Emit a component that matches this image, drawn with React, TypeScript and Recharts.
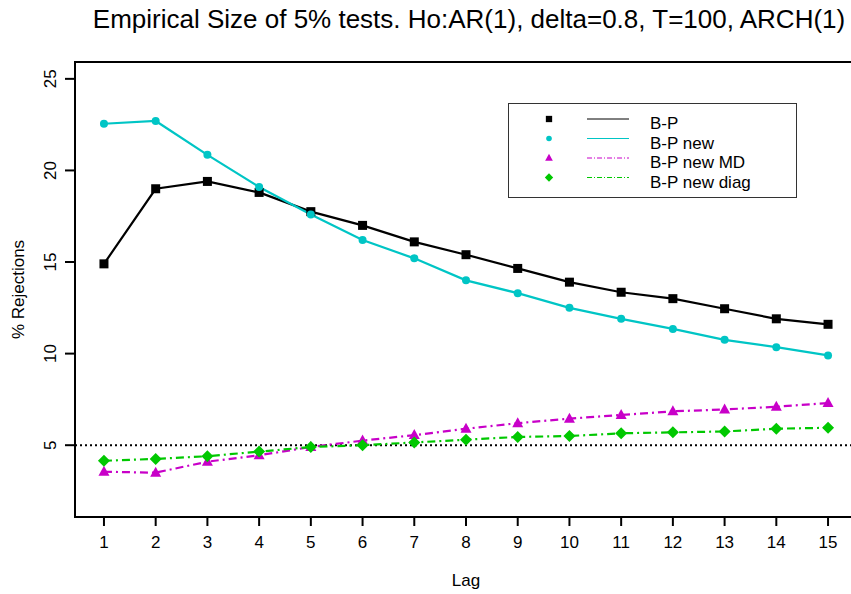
import React from "react";
import { LineChart, Line, XAxis, YAxis, ReferenceLine, ReferenceArea } from "recharts";

// lags and rejection rates (%)
const lags = [1, 2, 3, 4, 5, 6, 7, 8, 9, 10, 11, 12, 13, 14, 15];
const bp = [14.9, 19.0, 19.4, 18.8, 17.75, 17.0, 16.1, 15.4, 14.65, 13.9, 13.35, 13.0, 12.45, 11.9, 11.6];
const bpNew = [22.55, 22.7, 20.85, 19.1, 17.6, 16.2, 15.2, 14.0, 13.3, 12.5, 11.9, 11.35, 10.75, 10.35, 9.9];
const bpNewMD = [3.55, 3.5, 4.1, 4.45, 4.9, 5.25, 5.55, 5.9, 6.2, 6.45, 6.65, 6.85, 6.95, 7.1, 7.3];
const bpNewDiag = [4.15, 4.25, 4.4, 4.65, 4.9, 5.0, 5.15, 5.3, 5.45, 5.5, 5.65, 5.7, 5.75, 5.9, 5.95];
const yTicks = [5, 10, 15, 20, 25];

const data = lags.map((lag, i) => ({
  lag,
  bp: bp[i],
  bpNew: bpNew[i],
  bpNewMD: bpNewMD[i],
  bpNewDiag: bpNewDiag[i],
}));

// R-style axis extension (4%)
const xDomain = [1 - 0.56, 15 + 0.56];
const yDomain = [2 - 0.92, 25 + 0.92];

const FONT = "'Liberation Sans', Arial, Helvetica, sans-serif";
const FS = 17;
const CYAN = "#00C5C5";
const MAGENTA = "#C800C8";
const GREEN = "#00C800";
const DOTDASH = "8 4 2 4";

const Square = ({ cx, cy, fill, s = 1 }: any) =>
  cx == null ? null : (
    <rect x={cx - 4.5 * s} y={cy - 4.5 * s} width={9 * s} height={9 * s} fill={fill} />
  );
const Circle = ({ cx, cy, fill, s = 1 }: any) =>
  cx == null ? null : <circle cx={cx} cy={cy} r={4 * s} fill={fill} />;
const Triangle = ({ cx, cy, fill, s = 1 }: any) =>
  cx == null ? null : (
    <polygon
      points={`${cx},${cy - 6 * s} ${cx - 5.5 * s},${cy + 4 * s} ${cx + 5.5 * s},${cy + 4 * s}`}
      fill={fill}
    />
  );
const Diamond = ({ cx, cy, fill, s = 1 }: any) =>
  cx == null ? null : (
    <polygon
      points={`${cx},${cy - 6 * s} ${cx + 6 * s},${cy} ${cx},${cy + 6 * s} ${cx - 6 * s},${cy}`}
      fill={fill}
    />
  );

const series = [
  { key: "bp", name: "B-P", color: "#000", dash: undefined, Marker: Square },
  { key: "bpNew", name: "B-P new", color: CYAN, dash: undefined, Marker: Circle },
  { key: "bpNewMD", name: "B-P new MD", color: MAGENTA, dash: DOTDASH, Marker: Triangle },
  { key: "bpNewDiag", name: "B-P new diag", color: GREEN, dash: DOTDASH, Marker: Diamond },
];

const LegendBox = () => (
  <svg
    width={290}
    height={96}
    style={{ position: "absolute", left: 508, top: 103, display: "block" }}
  >
    <rect x={0.5} y={0.5} width={288} height={94} fill="#fff" stroke="#333" strokeWidth={1} />
    {series.map((s, i) => {
      const cy = 16 + i * 19.5;
      const M = s.Marker;
      return (
        <g key={s.key}>
          <M cx={41} cy={cy} fill={s.color} s={0.7} />
          <line
            x1={79}
            x2={121}
            y1={cy}
            y2={cy}
            stroke={s.color}
            strokeWidth={1}
            strokeDasharray={s.dash ? "5 2 1 2" : undefined}
          />
          <text x={142} y={cy + 10} fontSize={FS} fontFamily={FONT} fill="#000">
            {s.name}
          </text>
        </g>
      );
    })}
  </svg>
);

const Y_LABEL_BASELINE = 56;

const YTick = ({ y, payload }: any) => (
  <text
    transform={`translate(${Y_LABEL_BASELINE},${y}) rotate(-90)`}
    textAnchor="middle"
    fontSize={FS}
    fontFamily={FONT}
    fill="#000"
  >
    {payload.value}
  </text>
);

const XTick = ({ x, y, payload }: any) => (
  <text x={x} y={y + 20} textAnchor="middle" fontSize={FS} fontFamily={FONT} fill="#000">
    {payload.value}
  </text>
);

export default function App() {
  return (
    <div
      style={{
        position: "absolute",
        left: 0,
        top: 0,
        width: 851,
        height: 594,
        overflow: "hidden",
        background: "#fff",
      }}
    >
      <LineChart
        width={870}
        height={594}
        data={data}
        margin={{ top: 62, right: 13, bottom: 0, left: 0 }}
        style={{ fontFamily: FONT }}
      >
        <text x={469} y={28} textAnchor="middle" fontSize={26} fontFamily={FONT} fill="#000">
          Empirical Size of 5% tests. Ho:AR(1), delta=0.8, T=100, ARCH(1)
        </text>
        <XAxis
          dataKey="lag"
          type="number"
          domain={xDomain}
          ticks={lags}
          allowDataOverflow
          height={77}
          axisLine={false}
          tickLine={{ stroke: "#000", strokeWidth: 2 }}
          tickSize={9}
          tick={<XTick />}
          label={{
            content: ({ viewBox }: any) => (
              <text
                x={viewBox.x + viewBox.width / 2}
                y={586}
                textAnchor="middle"
                fontSize={FS}
                fontFamily={FONT}
                fill="#000"
              >
                Lag
              </text>
            ),
          }}
        />
        <YAxis
          type="number"
          domain={yDomain}
          ticks={yTicks}
          allowDataOverflow
          width={75}
          axisLine={false}
          tickLine={{ stroke: "#000", strokeWidth: 2 }}
          tickSize={10}
          tick={<YTick />}
          label={{
            content: ({ viewBox }: any) => (
              <text
                transform={`translate(24,${viewBox.y + viewBox.height / 2}) rotate(-90)`}
                textAnchor="middle"
                fontSize={FS}
                fontFamily={FONT}
                fill="#000"
              >
                % Rejections
              </text>
            ),
          }}
        />
        <ReferenceArea
          x1={xDomain[0]}
          x2={xDomain[1]}
          y1={yDomain[0]}
          y2={yDomain[1]}
          fill="none"
          stroke="#000"
          strokeWidth={2}
        />
        <ReferenceLine y={5} stroke="#000" strokeWidth={2} strokeDasharray="2 3" />
        {series.map((s) => (
          <Line
            key={s.key}
            dataKey={s.key}
            name={s.name}
            type="linear"
            stroke={s.color}
            strokeWidth={2.2}
            strokeDasharray={s.dash}
            dot={(p: any) => (
              <s.Marker key={`${s.key}-${p.index}`} cx={p.cx} cy={p.cy} fill={s.color} />
            )}
            isAnimationActive={false}
          />
        ))}
      </LineChart>
      <LegendBox />
    </div>
  );
}
